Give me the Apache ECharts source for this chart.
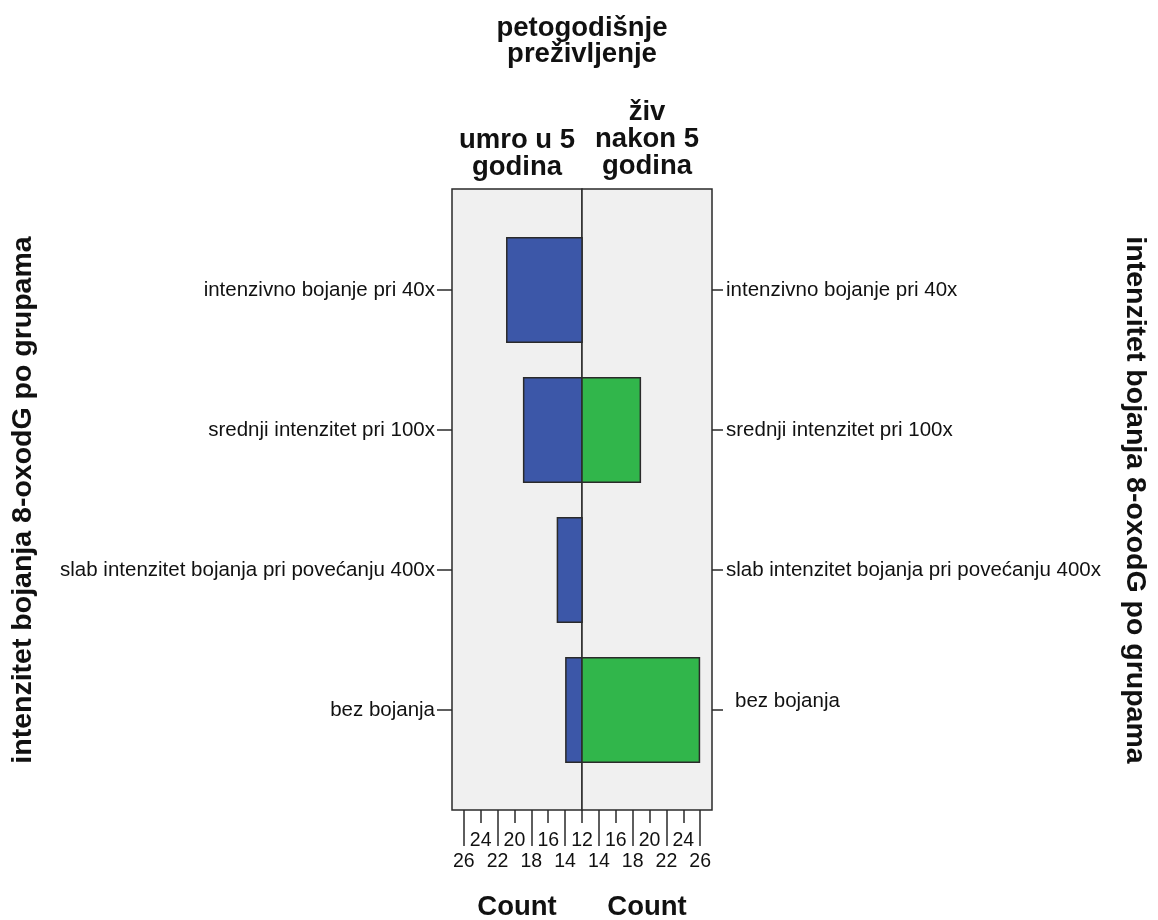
<!DOCTYPE html>
<html><head><meta charset="utf-8">
<script src="https://cdn.jsdelivr.net/npm/echarts@6/dist/echarts.min.js"></script>
<style>html,body{margin:0;padding:0;background:#fff}#c{width:1158px;height:920px}</style>
</head><body><div id="c"></div>
<script>
const categories = ['intenzivno bojanje pri 40x', 'srednji intenzitet pri 100x', 'slab intenzitet bojanja pri povećanju 400x', 'bez bojanja'];
const umroValues = [21, 19, 15, 14];
const zivValues = ['-', 19, '-', 26];
const countMin = 12, countMax = 27.4;
const upperTicksLeft = [12, 16, 20, 24];
const upperTicksRight = [16, 20, 24];
const lowerTicks = [14, 18, 22, 26];
const titleText = 'petogodišnje\npreživljenje';
const groupNames = ['umro u 5\ngodina', 'živ\nnakon 5\ngodina'];
const yTitle = 'intenzitet bojanja 8-oxodG po grupama';
const xTitle = 'Count';

const FONT = '"Liberation Sans", Arial, sans-serif';
const TXT = '#111';
const LINE = '#2a2a2a';

function xAxisPair(grid, inverse, upper, name) {
  const base = {
    gridIndex: grid, type: 'value', min: countMin, max: countMax, inverse: inverse,
    position: 'bottom', offset: 30, splitLine: {show: false}, axisLine: {show: false}
  };
  return [
    Object.assign({}, base, {
      name: name, nameLocation: 'middle', nameGap: 83,
      nameTextStyle: {fontFamily: FONT, fontWeight: 'bold', fontSize: 27.5, color: TXT},
      axisTick: {show: true, customValues: upper, length: 13, lineStyle: {color: LINE, width: 1.5}},
      axisLabel: {show: true, customValues: upper, margin: 21, fontFamily: FONT, fontSize: 19.5, color: TXT}
    }),
    Object.assign({}, base, {
      axisTick: {show: true, customValues: lowerTicks, length: 36, lineStyle: {color: LINE, width: 1.5}},
      axisLabel: {show: true, customValues: lowerTicks, margin: 42, fontFamily: FONT, fontSize: 19.5, color: TXT}
    })
  ];
}

const chart = echarts.init(document.getElementById('c'), null, {renderer: 'canvas'});
chart.setOption({
  backgroundColor: '#fff',
  animation: false,
  grid: [
    {left: 452, top: 220, width: 130, height: 560, outerBoundsMode: 'none', containLabel: false},
    {left: 582, top: 220, width: 130, height: 560, outerBoundsMode: 'none', containLabel: false},
    {left: 452, top: 189, width: 130, height: 621, outerBoundsMode: 'none', show: true, backgroundColor: '#f0f0f0', borderColor: LINE, borderWidth: 1.5},
    {left: 582, top: 189, width: 130, height: 621, outerBoundsMode: 'none', show: true, backgroundColor: '#f0f0f0', borderColor: LINE, borderWidth: 1.5}
  ],
  xAxis: [
    ...xAxisPair(0, true, upperTicksLeft, xTitle),
    ...xAxisPair(1, false, upperTicksRight, xTitle),
    {gridIndex: 2, type: 'value', show: false},
    {gridIndex: 3, type: 'value', show: false}
  ],
  yAxis: [
    {
      gridIndex: 0, type: 'category', data: categories, inverse: true, position: 'left',
      axisLine: {show: false},
      axisTick: {show: true, alignWithLabel: true, length: 15, lineStyle: {color: LINE, width: 1.5}},
      axisLabel: {margin: 17, fontFamily: FONT, fontSize: 20.5, color: TXT},
      name: yTitle, nameLocation: 'middle', nameRotate: 90, nameGap: 414,
      nameTextStyle: {fontFamily: FONT, fontWeight: 'bold', fontSize: 28.5, color: TXT}
    },
    {
      gridIndex: 1, type: 'category', data: categories, inverse: true, position: 'right',
      axisLine: {show: false},
      axisTick: {show: true, alignWithLabel: true, length: 11, lineStyle: {color: LINE, width: 1.5}},
      axisLabel: {
        margin: 14, fontFamily: FONT, fontSize: 20.5, color: TXT,
        formatter: function (v) { return v === 'bez bojanja' ? '{o|' + v + '}' : v; },
        rich: {o: {fontFamily: FONT, fontSize: 20.5, color: TXT, padding: [0, 0, 18, 9]}}
      },
      name: yTitle, nameLocation: 'middle', nameRotate: -90, nameGap: 408,
      nameTextStyle: {fontFamily: FONT, fontWeight: 'bold', fontSize: 28.5, color: TXT}
    },
    {gridIndex: 2, type: 'value', show: false},
    {gridIndex: 3, type: 'value', show: false}
  ],
  graphic: [
    {type: 'text', x: 582, y: 15, style: {text: titleText, font: 'bold 27.5px ' + FONT, fill: TXT, textAlign: 'center', textVerticalAlign: 'top', lineHeight: 26}},
    {type: 'text', x: 517, y: 127, style: {text: groupNames[0], font: 'bold 27.5px ' + FONT, fill: TXT, textAlign: 'center', textVerticalAlign: 'top', lineHeight: 27}},
    {type: 'text', x: 647, y: 99, style: {text: groupNames[1], font: 'bold 27.5px ' + FONT, fill: TXT, textAlign: 'center', textVerticalAlign: 'top', lineHeight: 27}}
  ],
  series: [
    {
      type: 'bar', xAxisIndex: 0, yAxisIndex: 0, data: umroValues, barWidth: 106,
      itemStyle: {color: '#3c57a8', borderColor: LINE, borderWidth: 1.5}
    },
    {
      type: 'bar', xAxisIndex: 2, yAxisIndex: 1, data: zivValues, barWidth: 106,
      itemStyle: {color: '#31b64b', borderColor: LINE, borderWidth: 1.5}
    }
  ]
});
</script></body></html>
